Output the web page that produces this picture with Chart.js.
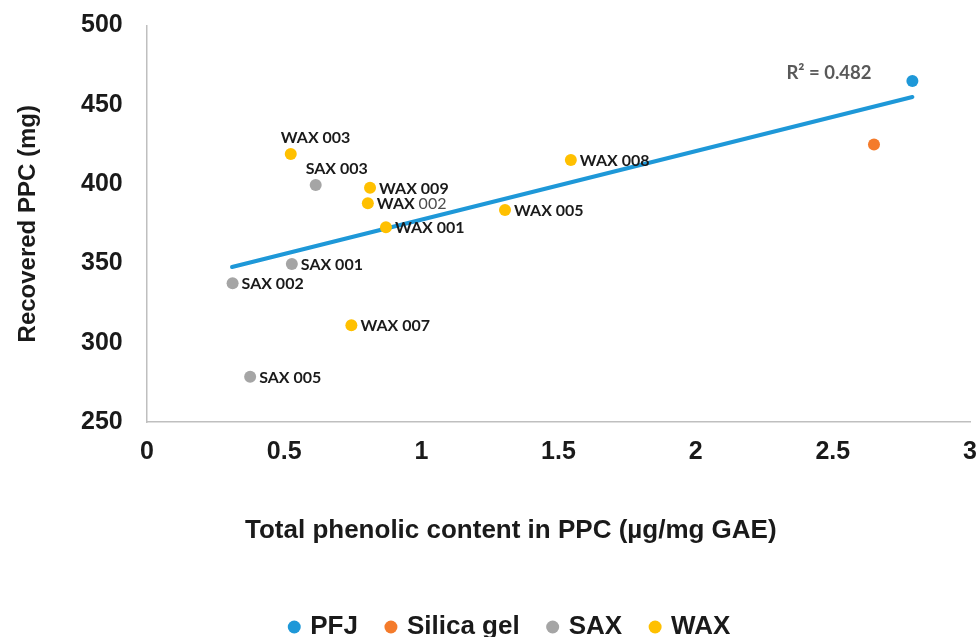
<!DOCTYPE html>
<html>
<head>
<meta charset="utf-8">
<script src="https://cdn.jsdelivr.net/npm/chart.js@4"></script>
<style>
  html, body { margin: 0; padding: 0; background: #ffffff; }
  #wrap { width: 978px; height: 637px; }
</style>
</head>
<body>
<div id="wrap"><canvas id="chart"></canvas></div>
<script>
// Total phenolic content (µg/mg GAE) vs recovered PPC (mg) per sorbent
const pfjX = [2.79];
const pfjY = [465];

const silicaX = [2.65];
const silicaY = [425];

const saxNames = ['SAX 003', 'SAX 001', 'SAX 002', 'SAX 005'];
const saxX = [0.615, 0.528, 0.312, 0.376];
const saxY = [399.5, 349.6, 337.5, 278.6];

const waxNames = ['WAX 003', 'WAX 009', 'WAX 002', 'WAX 001', 'WAX 007', 'WAX 008', 'WAX 005'];
const waxX = [0.524, 0.813, 0.805, 0.871, 0.745, 1.545, 1.305];
const waxY = [419.0, 397.7, 387.9, 372.8, 311.0, 415.2, 383.7];

// Linear trend line endpoints and its fit statistic
const trendX = [0.31, 2.79];
const trendY = [347.7, 454.9];
const r2Text = 'R\u00B2 = 0.482';
const r2Pos = [2.486, 470.3];

const xTickLabels = ['0', '0.5', '1', '1.5', '2', '2.5', '3'];
const legendNames = ['PFJ', 'Silica gel', 'SAX', 'WAX'];

// Where each point's name sits relative to its marker
const saxLabelSide = ['above', 'right', 'right', 'right'];
const waxLabelSide = ['above', 'right', 'right', 'right', 'right', 'right', 'right'];
const lightNumberLabels = ['WAX 002'];

const toPoints = (xs, ys) => xs.map((x, i) => ({ x: x, y: ys[i] }));

const colors = { pfj: '#1e98d8', silica: '#f47b2b', sax: '#a5a5a5', wax: '#ffc000' };

const markerStyle = (c) => ({
  backgroundColor: c, borderColor: c, borderWidth: 0,
  pointRadius: 6, pointHoverRadius: 6, pointStyle: 'circle'
});

const pointLabels = {
  id: 'pointLabels',
  afterDatasetsDraw(chart) {
    const ctx = chart.ctx;
    ctx.save();
    ctx.textBaseline = 'middle';
    ctx.textAlign = 'left';
    chart.data.datasets.forEach((ds, di) => {
      if (!ds.names) return;
      const meta = chart.getDatasetMeta(di);
      meta.data.forEach((pt, i) => {
        const name = ds.names[i];
        let x = pt.x + 9, y = pt.y + 1;
        if (ds.sides[i] === 'above') { x = pt.x - 10; y = pt.y - 16; }
        const parts = name.split(' ');
        ctx.font = 'bold 16px Lato';
        ctx.fillStyle = '#1a1a1a';
        const head = parts[0] + ' ';
        ctx.fillText(head, x, y);
        const w = ctx.measureText(head).width;
        if (lightNumberLabels.includes(name)) {
          ctx.font = '16px Lato';
          ctx.fillStyle = '#4d4d4d';
        }
        ctx.fillText(parts[1], x + w, y);
      });
    });
    const xs = chart.scales.x, ys = chart.scales.y;
    ctx.font = 'bold 18.5px Lato';
    ctx.fillStyle = '#595959';
    ctx.textAlign = 'center';
    ctx.fillText(r2Text, xs.getPixelForValue(r2Pos[0]), ys.getPixelForValue(r2Pos[1]));
    ctx.restore();
  }
};

const tickFont = { family: 'Liberation Sans', size: 25, weight: 'bold' };

new Chart(document.getElementById('chart'), {
  type: 'scatter',
  data: {
    datasets: [
      Object.assign({ label: legendNames[0], data: toPoints(pfjX, pfjY) }, markerStyle(colors.pfj)),
      Object.assign({ label: legendNames[1], data: toPoints(silicaX, silicaY) }, markerStyle(colors.silica)),
      Object.assign({ label: legendNames[2], data: toPoints(saxX, saxY), names: saxNames, sides: saxLabelSide }, markerStyle(colors.sax)),
      Object.assign({ label: legendNames[3], data: toPoints(waxX, waxY), names: waxNames, sides: waxLabelSide }, markerStyle(colors.wax)),
      {
        type: 'line', label: 'Linear', data: toPoints(trendX, trendY),
        borderColor: '#1e98d8', borderWidth: 4, pointRadius: 0, fill: false,
        showLine: true, order: 10, borderCapStyle: 'round'
      }
    ]
  },
  options: {
    responsive: true,
    maintainAspectRatio: false,
    animation: false,
    events: [],
    layout: { padding: { left: 43.6, right: 0, top: 25.5, bottom: -13 } },
    scales: {
      x: {
        type: 'linear', min: 0, max: 3,
        grid: { display: false, drawTicks: false },
        border: { display: true, color: '#bfbfbf', width: 1.5 },
        ticks: {
          stepSize: 0.5, padding: 15, color: '#1a1a1a', font: tickFont,
          callback: (v, i) => xTickLabels[i]
        },
        afterFit: (s) => { s.paddingLeft = 0; s.paddingRight = 8; }
      },
      y: {
        type: 'linear', min: 250, max: 500,
        grid: { display: false, drawTicks: false },
        border: { display: true, color: '#bfbfbf', width: 1.5 },
        ticks: { stepSize: 50, padding: 24.3, color: '#1a1a1a', font: tickFont },
        title: {
          display: true, text: 'Recovered PPC (mg)', color: '#1a1a1a',
          font: { family: 'Liberation Sans', size: 24, weight: 'bold' },
          padding: { top: -29.5, bottom: 0 }
        },
        afterFit: (s) => { s.width = 103.4; s.paddingTop = 0; s.paddingBottom = 0; }
      }
    },
    plugins: {
      tooltip: { enabled: false },
      title: {
        display: true, position: 'bottom', weight: 500,
        text: 'Total phenolic content in PPC (\u00B5g/mg GAE)',
        color: '#1a1a1a',
        font: { family: 'Liberation Sans', size: 26, weight: 'bold', lineHeight: 1.2 },
        padding: { top: 33, bottom: 37.8 }
      },
      legend: {
        position: 'bottom',
        labels: {
          usePointStyle: true, boxWidth: 6, boxHeight: 9.2, padding: 30,
          color: '#1a1a1a',
          font: { family: 'Liberation Sans', size: 26, weight: 'bold' },
          filter: (item) => item.datasetIndex < 4
        }
      }
    }
  },
  plugins: [pointLabels]
});
</script>
</body>
</html>
